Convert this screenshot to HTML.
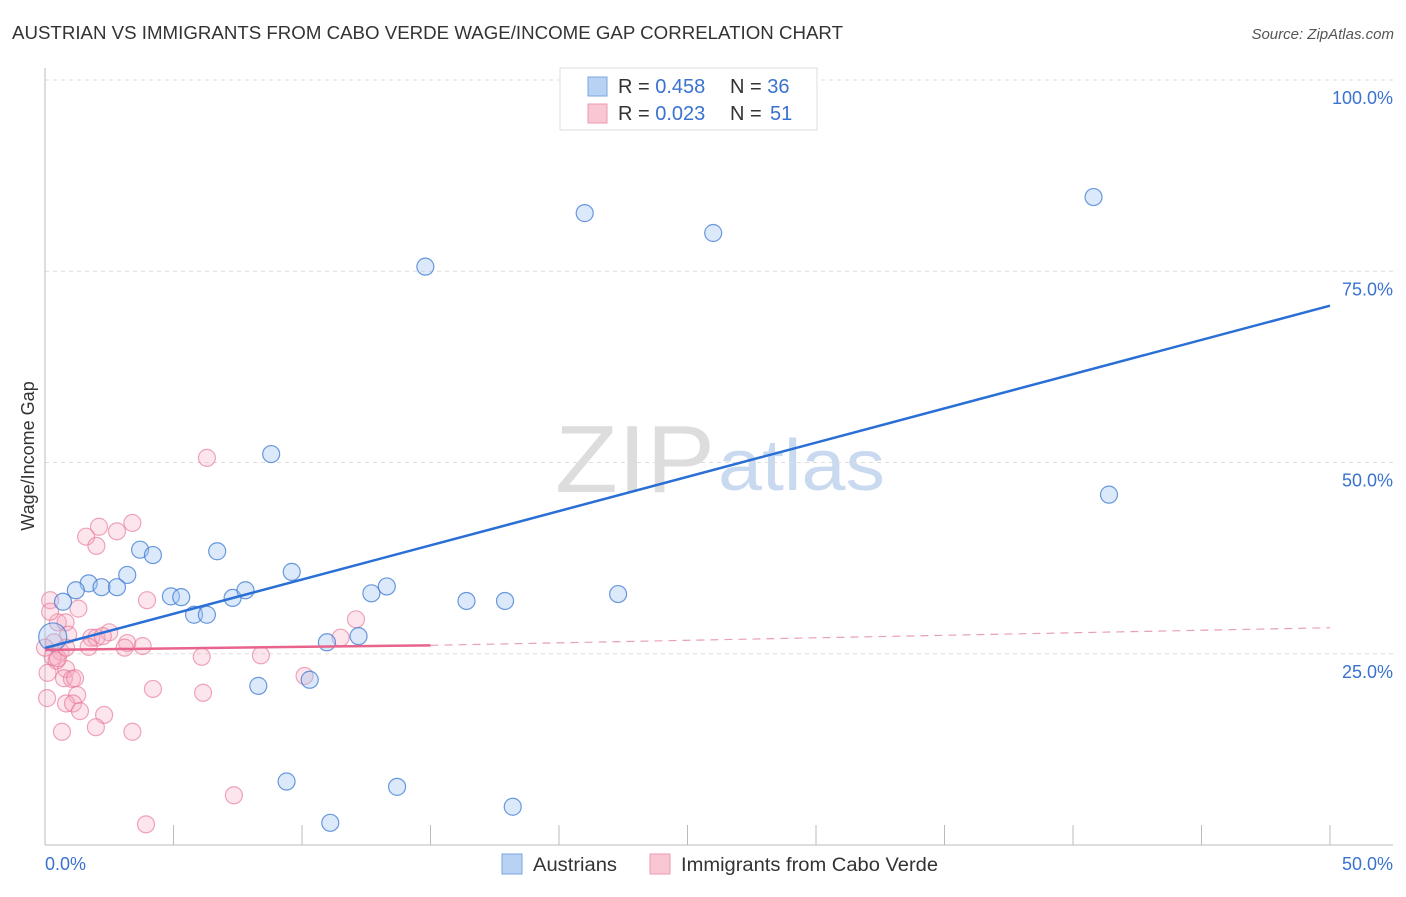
<!DOCTYPE html>
<html><head><meta charset="utf-8"><style>
body{margin:0;background:#fff;font-family:"Liberation Sans",sans-serif;}
svg text{font-family:"Liberation Sans",sans-serif;}
</style></head><body>
<svg id="chart" width="1406" height="892" xmlns="http://www.w3.org/2000/svg">
<text x="12" y="39" font-size="18" fill="#333" textLength="831" lengthAdjust="spacingAndGlyphs">AUSTRIAN VS IMMIGRANTS FROM CABO VERDE WAGE/INCOME GAP CORRELATION CHART</text>
<text x="1394" y="39" font-size="15" fill="#555" font-style="italic" text-anchor="end">Source: ZipAtlas.com</text>
<text x="555" y="492" font-size="96" fill="#ddd" font-family="Liberation Serif,serif" textLength="160" lengthAdjust="spacingAndGlyphs">ZIP</text>
<text x="718" y="490" font-size="72" fill="#c9daf0" textLength="167" lengthAdjust="spacingAndGlyphs">atlas</text>
<g id="grid"></g>
<g id="axes"></g>
<g id="marks"></g>
<text transform="translate(34,456) rotate(-90)" font-size="18" fill="#333" text-anchor="middle">Wage/Income Gap</text>
<g>
<rect x="560" y="68" width="257" height="62" fill="#fff" stroke="#ddd"/>
<rect x="588" y="77" width="19" height="19" fill="#b8d2f4" stroke="#7aa6e0"/>
<rect x="588" y="104" width="19" height="19" fill="#f9c6d4" stroke="#ee9ab2"/>
<text x="618" y="93" font-size="20" fill="#333">R = <tspan fill="#3a72d0">0.458</tspan></text>
<text x="730" y="93" font-size="20" fill="#333">N = <tspan fill="#3a72d0">36</tspan></text>
<text x="618" y="120" font-size="20" fill="#333">R = <tspan fill="#3a72d0">0.023</tspan></text>
<text x="730" y="120" font-size="20" fill="#333">N = <tspan fill="#3a72d0" x="770">51</tspan></text>
</g>
<g>
<rect x="502" y="854" width="20" height="20" fill="#b8d2f4" stroke="#7aa6e0"/>
<text x="533" y="871" font-size="19" fill="#333" textLength="84" lengthAdjust="spacingAndGlyphs">Austrians</text>
<rect x="650" y="854" width="20" height="20" fill="#f9c6d4" stroke="#ee9ab2"/>
<text x="681" y="871" font-size="19" fill="#333" textLength="257" lengthAdjust="spacingAndGlyphs">Immigrants from Cabo Verde</text>
</g>
</svg>
<script>
const yTicks=[25,50,75,100];
const yTickLabels=["25.0%","50.0%","75.0%","100.0%"];
const xTickLabels=["0.0%","50.0%"];
const blueX=[21.0,26.0,40.8,14.8,8.8,41.4,3.7,4.2,6.7,3.2,1.7,1.2,2.2,2.8,0.7,4.9,5.3,5.8,6.3,7.3,7.8,9.6,12.7,13.3,16.4,17.9,22.3,10.97,12.2,8.3,10.3,9.4,13.7,18.2,11.1,0.3];
const blueY=[82.6,80.0,84.7,75.6,51.1,45.8,38.6,37.9,38.4,35.3,34.2,33.3,33.7,33.7,31.8,32.5,32.4,30.1,30.1,32.3,33.3,35.7,32.9,33.8,31.9,31.9,32.8,26.5,27.3,20.8,21.6,8.3,7.6,5.0,2.9,27.2];
const pinkX=[6.3,3.4,2.1,2.8,1.6,2.0,0.2,1.3,0.5,0.8,0.9,0.35,1.8,2.0,2.5,2.25,3.2,3.1,3.8,3.97,1.7,0.6,0.3,0.45,0.82,0.1,0.74,1.05,1.17,1.25,4.2,6.15,8.4,6.1,10.1,11.5,12.1,0.82,1.09,1.36,2.3,1.98,0.66,3.4,7.35,3.93,0.08,0.2,0.5,0.0,0.82];
const pinkY=[50.6,42.1,41.6,41.0,40.3,39.1,32.0,30.9,29.1,29.1,27.5,26.5,27.1,27.1,27.8,27.3,26.4,25.8,26.0,32.0,25.9,25.3,24.6,24.1,23.0,22.5,21.8,21.7,21.8,19.6,20.4,19.9,24.8,24.6,22.1,27.1,29.5,18.5,18.5,17.5,17.0,15.4,14.8,14.8,6.5,2.7,19.2,30.5,24.4,25.8,25.8];
const blueTrend=[0,25.75,50,70.5];
const pinkTrend=[0,25.5,15,26.1,50,28.4];
const NS="http://www.w3.org/2000/svg";
const X=v=>45+v*25.7, Y=v=>845-v*7.65;
function mk(t,a,p){const e=document.createElementNS(NS,t);for(const k in a)e.setAttribute(k,a[k]);p.appendChild(e);return e;}
const grid=document.getElementById('grid'),axes=document.getElementById('axes'),marks=document.getElementById('marks');
yTicks.forEach((v,i)=>{
 const l=mk('line',{x1:45,x2:1393,y1:Y(v),y2:Y(v),stroke:'#ddd','stroke-dasharray':'4,4'},grid);
 
 
 const t=mk('text',{x:1393,y:Y(v)+24,'font-size':18,fill:'#3a72d0','text-anchor':'end'},axes);
 t.textContent=yTickLabels[i];
 
 
});
const ax=mk('line',{x1:45,x2:45,y1:68,y2:845,stroke:'#bbb'},axes);


const bx=mk('line',{x1:45,x2:1393,y1:845,y2:845,stroke:'#bbb'},axes);


for(let i=0;i<=10;i++){const tk=mk('line',{x1:X(i*5),x2:X(i*5),y1:825,y2:845,stroke:'#bbb'},axes);
 
 }
[[45,'start'],[1393,'end']].forEach((p,i)=>{const t=mk('text',{x:p[0],y:870,'font-size':18,fill:'#3a72d0','text-anchor':p[1]},axes);t.textContent=xTickLabels[i];
 
 });
function pts(xs,ys,fill,stroke,name){xs.forEach((x,i)=>{const c=mk('circle',{cx:X(x),cy:Y(ys[i]),r:(name==='austrian-point'&&i===35)?14:8.5,fill:fill,stroke:stroke,'stroke-width':1.2},marks);
 
 });}
pts(pinkX,pinkY,'rgba(244,170,192,0.3)','rgba(230,120,150,0.65)','cabo-verde-point');
pts(blueX,blueY,'rgba(160,198,242,0.38)','rgba(60,120,210,0.75)','austrian-point');
const bt=mk('line',{x1:X(blueTrend[0]),y1:Y(blueTrend[1]),x2:X(blueTrend[2]),y2:Y(blueTrend[3]),stroke:'#2a6fd6','stroke-width':2.5},marks);


const pt=mk('line',{x1:X(pinkTrend[0]),y1:Y(pinkTrend[1]),x2:X(pinkTrend[2]),y2:Y(pinkTrend[3]),stroke:'#e8648c','stroke-width':2.5},marks);


const pd=mk('line',{x1:X(pinkTrend[2]),y1:Y(pinkTrend[3]),x2:X(pinkTrend[4]),y2:Y(pinkTrend[5]),stroke:'#e8a0b5','stroke-width':1.2,'stroke-dasharray':'8,6'},marks);


</script>
</body></html>
